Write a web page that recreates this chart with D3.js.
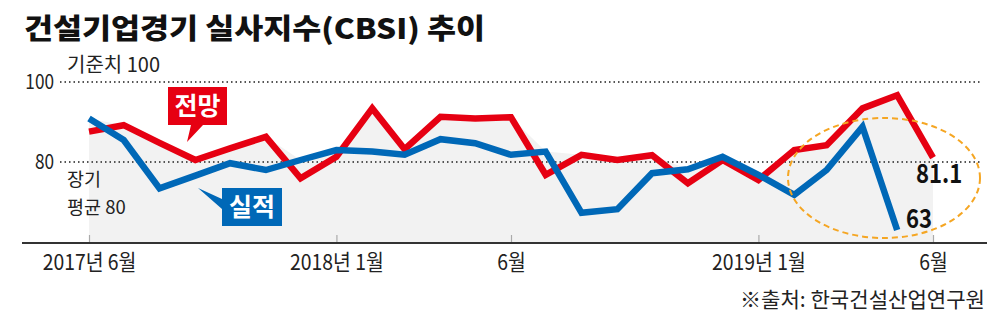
<!DOCTYPE html>
<html>
<head>
<meta charset="utf-8">
<script src="https://cdn.jsdelivr.net/npm/d3@7"></script>
<style>
  body { margin: 0; background: #fff; }
  svg { display: block; font-family: "Noto Sans CJK KR", "Noto Sans", sans-serif; }
</style>
</head>
<body>
<div id="chart"></div>
<script>
// months from 2017-06 to 2019-06
const months = d3.timeMonths(new Date(2017, 5, 1), new Date(2019, 6, 1));

// 전망 (forecast) - 25 months
const forecast = [87.6, 89.2, 84.8, 80.5, 83.4, 86.3, 75.9, 81.3, 93.4, 83.2, 91.3, 90.9, 91.2,
                  76.8, 81.8, 80.5, 81.7, 74.7, 80.5, 75.5, 83.0, 84.2, 93.4, 96.7, 81.1];
// 실적 (actual) - 24 months
const actual = [90.9, 85.5, 73.4, 76.6, 79.7, 78.0, 80.5, 83.0, 82.6, 81.8, 85.7, 84.7, 81.8,
                82.6, 67.3, 68.2, 77.2, 78.2, 81.3, 76.8, 71.8, 78.0, 88.8, 63.0];

const tickDates = [new Date(2017, 5, 1), new Date(2018, 0, 1), new Date(2018, 5, 1), new Date(2019, 0, 1), new Date(2019, 5, 1)];
const tickLabels = ['2017년 6월', '2018년 1월', '6월', '2019년 1월', '6월'];
const gridValues = [100, 80];

const width = 1000, height = 320;
const red = '#e60012', blue = '#0068b7';

const svg = d3.select('#chart').append('svg')
    .attr('width', width)
    .attr('height', height);

const x = d3.scaleTime().domain([months[0], months[months.length - 1]]).range([89, 933]);
const y = d3.scaleLinear().domain([60, 100]).range([242, 82]);

// background area under the higher of the two lines
const areaData = months.map((d, i) => ({ date: d, v: Math.max(forecast[i], actual[i] ?? forecast[i]) }));
svg.append('path')
    .datum(areaData)
    .attr('fill', '#f2f2f2')
    .attr('d', d3.area().x(d => x(d.date)).y0(y(60)).y1(d => y(d.v)));

// dotted reference lines
svg.selectAll('.grid')
  .data(gridValues)
  .join('line')
    .attr('x1', 60).attr('x2', 980)
    .attr('y1', d => y(d)).attr('y2', d => y(d))
    .attr('stroke', '#555')
    .attr('stroke-width', 2)
    .attr('stroke-dasharray', '1.5,3');

svg.selectAll('.ylab')
  .data(gridValues)
  .join('text')
    .attr('transform', d => `translate(54,${y(d) + 7}) scale(0.82,1)`)
    .attr('text-anchor', 'end')
    .attr('font-size', 21)
    .attr('fill', '#222')
    .text(d => d);

// side notes
svg.append('text').attr('x', 67).attr('y', 72).attr('font-size', 20).attr('fill', '#222').text('기준치 100');
svg.append('text').attr('x', 67).attr('y', 186).attr('font-size', 18.5).attr('fill', '#222').text('장기');
svg.append('text').attr('x', 67).attr('y', 214).attr('font-size', 18.5).attr('fill', '#222').text('평균 80');

// x axis
const xAxis = svg.append('g')
    .attr('transform', `translate(0,${y(60) + 1})`)
    .call(d3.axisBottom(x).tickValues(tickDates).tickFormat((d, i) => tickLabels[i]).tickSizeInner(-8).tickSizeOuter(0));
xAxis.select('.domain').remove();
xAxis.selectAll('.tick line').attr('stroke', '#aaa').attr('stroke-width', 1.2);
xAxis.selectAll('.tick text')
    .attr('font-size', 22)
    .attr('fill', '#222')
    .attr('font-family', '"Noto Sans CJK KR", sans-serif')
    .attr('y', 11)
    .attr('dy', '0.71em')
    .attr('transform', 'scale(0.88,1)');

svg.append('line')
    .attr('x1', 22).attr('x2', 987)
    .attr('y1', y(60) + 1).attr('y2', y(60) + 1)
    .attr('stroke', '#333')
    .attr('stroke-width', 2);

// lines
const line = d3.line().x((d, i) => x(months[i])).y(d => y(d));

svg.append('path')
    .datum(forecast)
    .attr('fill', 'none')
    .attr('stroke', red)
    .attr('stroke-width', 6.5)
    .attr('stroke-linejoin', 'miter')
    .attr('d', line);

svg.append('path')
    .datum(actual)
    .attr('fill', 'none')
    .attr('stroke', blue)
    .attr('stroke-width', 6.5)
    .attr('stroke-linejoin', 'miter')
    .attr('d', line);

// legend callouts
svg.append('path')
    .attr('d', 'M168,87H227V125H203L187,142L191,125H168Z')
    .attr('fill', red);
svg.append('text').attr('x', 197.5).attr('y', 115).attr('text-anchor', 'middle')
    .attr('font-size', 25).attr('font-weight', 700).attr('fill', '#fff').text('전망');

svg.append('path')
    .attr('d', 'M222,188H282V226H222V209L198,188L222,199Z')
    .attr('fill', blue);
svg.append('text').attr('x', 252).attr('y', 216).attr('text-anchor', 'middle')
    .attr('font-size', 25).attr('font-weight', 700).attr('fill', '#fff').text('실적');

// highlight ellipse
svg.append('ellipse')
    .attr('cx', 884).attr('cy', 178).attr('rx', 96).attr('ry', 60)
    .attr('fill', 'none')
    .attr('stroke', '#f5a623')
    .attr('stroke-width', 2)
    .attr('stroke-dasharray', '6,4');

// end values
svg.append('text')
    .attr('transform', `translate(916,183) scale(0.85,1)`)
    .attr('font-size', 26).attr('font-weight', 700).attr('fill', '#111')
    .text(forecast[forecast.length - 1]);
svg.append('text')
    .attr('transform', `translate(906,228) scale(0.85,1)`)
    .attr('font-size', 26).attr('font-weight', 700).attr('fill', '#111')
    .text(actual[actual.length - 1]);

// title and source
svg.append('text')
    .attr('x', 24).attr('y', 39)
    .attr('font-size', 28).attr('font-weight', 900).attr('fill', '#111')
    .attr('textLength', 461).attr('lengthAdjust', 'spacingAndGlyphs')
    .text('건설기업경기 실사지수(CBSI) 추이');

svg.append('text')
    .attr('x', 985).attr('y', 307)
    .attr('text-anchor', 'end')
    .attr('font-size', 21).attr('fill', '#222')
    .attr('textLength', 245).attr('lengthAdjust', 'spacingAndGlyphs')
    .text('※출처: 한국건설산업연구원');
</script>
</body>
</html>
